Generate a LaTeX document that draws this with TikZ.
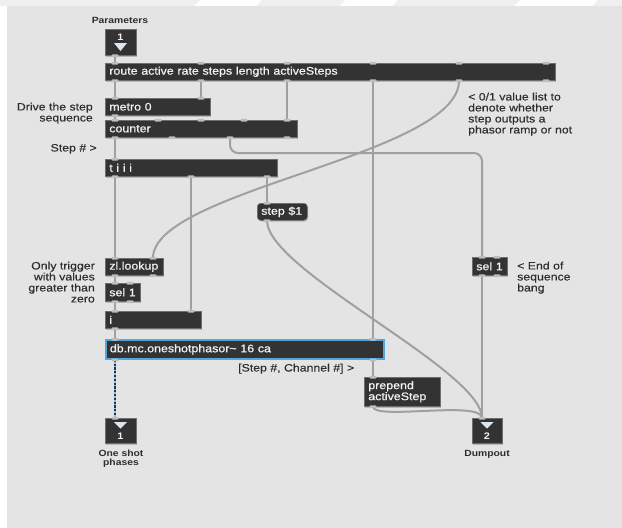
\documentclass[tikz,border=0pt]{standalone}
\usepackage{fontspec}
\newfontfamily\mxfont{Liberation Sans}[FakeStretch=1.15]
\newfontfamily\mxboxfont{Liberation Sans}[FakeStretch=1.13,FakeBold=0.7]
\newfontfamily\mxcmtfont{Liberation Sans}[FakeStretch=1.15,FakeBold=0.3]
\usetikzlibrary{calc,shadows}
\definecolor{bgc}{HTML}{E4E4E4}
\definecolor{stripc}{HTML}{EFEFEF}
\definecolor{objfill}{HTML}{333333}
\definecolor{objedge}{HTML}{6E6E6E}
\definecolor{objtext}{HTML}{F2F2F2}
\definecolor{cordc}{HTML}{A0A0A0}
\definecolor{mcblue}{HTML}{55A6DA}
\definecolor{mcdark}{HTML}{1C3553}
\definecolor{cmtc}{HTML}{2E2E2E}
\definecolor{portc}{HTML}{BDBDBD}
\definecolor{tric}{HTML}{DDE6EE}
\newcommand\boxtxt{\mxboxfont\fontsize{11}{11}\selectfont}
\newcommand\cmttxt{\mxcmtfont\fontsize{10.7}{11}\selectfont}
\newcommand\lbltxt{\mxfont\bfseries\fontsize{9}{9.5}\selectfont}
\newcommand\numtxt{\mxfont\bfseries\fontsize{9.5}{9.5}\selectfont}
\newcommand\portat[3]{\fill[portc,rounded corners=1pt] ($(#1.#2 west)+(#3-3.5,-1.2)$) rectangle ($(#1.#2 west)+(#3+3.5,1.6)$);}
\pgfdeclarelayer{back}
\pgfdeclarelayer{cords}
\pgfsetlayers{back,cords,main}
\begin{document}
\begin{tikzpicture}[x=1pt,y=-1pt,
  obj/.style={draw=objedge, line width=0.6pt, fill=objfill, text=objtext, font=\boxtxt,
    anchor=north west, inner xsep=4pt, inner ysep=0pt, align=left,
    drop shadow={shadow xshift=0.8pt, shadow yshift=-1.2pt, opacity=0.2, fill=black}},
  msgbox/.style={obj, rounded corners=3.5pt},
  mcbox/.style={obj, draw=mcblue, line width=1.8pt},
  iobox/.style={draw=objedge, line width=0.6pt, fill=objfill, anchor=north west, inner sep=0pt,
    drop shadow={shadow xshift=0.8pt, shadow yshift=-1.2pt, opacity=0.2, fill=black}},
  ionum/.style={font=\numtxt, text=objtext, inner sep=0pt},
  cmt/.style={font=\cmttxt, text=cmtc, inner sep=0pt},
  lbl/.style={font=\lbltxt, text=cmtc, inner sep=0pt},
  cord/.style={draw=cordc, line width=2pt},
  mcbase/.style={draw=mcblue!70!white, line width=2.6pt},
  mcdots/.style={draw=mcdark, line width=2.6pt, dash pattern=on 2.2pt off 1.6pt}
]
\useasboundingbox (0,0) rectangle (622,528);
\begin{pgfonlayer}{back}
  \fill[white] (0,0) rectangle (622,528);
  \fill[stripc] (0,0) -- (200,0) -- (194,6) -- (0,6) -- cycle;
  \fill[stripc] (262,0) -- (345,0) -- (339,6) -- (256,6) -- cycle;
  \fill[stripc] (398,0) -- (520,0) -- (514,6) -- (392,6) -- cycle;
  \fill[stripc] (598,0) -- (622,0) -- (622,6) -- (592,6) -- cycle;
  \fill[bgc] (7,6) rectangle (622,528);
\end{pgfonlayer}

% objects
\node[iobox, minimum width=31pt, minimum height=26pt] (in1) at (105,29) {};
\node[obj, text width=442pt, minimum height=17pt] (route) at (105,63) {route active rate steps length activeSteps};
\node[obj, text width=97pt, minimum height=17pt] (metro) at (105,98) {metro 0};
\node[obj, text width=184pt, minimum height=17pt] (counter) at (105,120) {counter};
\node[obj, text width=164pt, minimum height=17pt] (tiii) at (105,159) {t i i i};
\node[msgbox, text width=42pt, minimum height=17pt] (step) at (257,203) {step \$1};
\node[obj, text width=50pt, minimum height=17pt] (zl) at (105,258) {zl.lookup};
\node[obj, text width=27pt, minimum height=18pt] (sela) at (105,283) {sel 1};
\node[obj, text width=88pt, minimum height=17pt] (ibox) at (105,311) {i};
\node[mcbox, text width=270pt, minimum height=19pt] (db) at (105,339) {db.mc.oneshotphasor\textasciitilde{} 16 ca};
\node[obj, text width=68pt, minimum height=29pt] (prep) at (364,377) {prepend\\activeStep};
\node[obj, text width=27pt, minimum height=18pt] (selb) at (472,257) {sel 1};
\node[iobox, minimum width=31pt, minimum height=25pt] (out1) at (105,418) {};
\node[iobox, minimum width=30pt, minimum height=25pt] (out2) at (472,418) {};

% inlet / outlet glyphs
\node[ionum] (in1num) at (120.5,37.5) {1};
\fill[tric] (114,43) -- (127,43) -- (120.5,51) -- cycle;
\fill[tric] (114,422) -- (127,422) -- (120.5,428.5) -- cycle;
\node[ionum] (out1num) at (120.5,436.5) {1};
\fill[tric] (480.5,422) -- (493.5,422) -- (487,428.5) -- cycle;
\node[ionum] (out2num) at (487,436.5) {2};

% comments and labels
\node[lbl, anchor=base] (lpar) at (120,23) {Parameters};
\node[cmt, anchor=north east, align=right] (cdrive) at (93,102.5) {Drive the step\\sequence};
\node[cmt, anchor=base east] (cstep) at (97,151.5) {Step \# >};
\node[cmt, anchor=north west, align=left] (clist) at (468,92.5) {< 0/1 value list to\\denote whether\\step outputs a\\phasor ramp or not};
\node[cmt, anchor=north east, align=right] (ctrig) at (95,261.5) {Only trigger\\with values\\greater than\\zero};
\node[cmt, anchor=north west, align=left] (cend) at (517,261.5) {< End of\\sequence\\bang};
\node[cmt, anchor=base west] (cchan) at (238,371.5) {[Step \#, Channel \#] >};
\node[lbl, anchor=north, align=center] (lone) at (121,449.5) {One shot\\phases};
\node[lbl, anchor=base] (ldump) at (487,456) {Dumpout};

% port coordinates
\coordinate (in1-o) at ($(in1.south west)+(10,0)$);
\coordinate (route-i0) at ($(route.north west)+(10,0)$);
\coordinate (route-o0) at ($(route.south west)+(10,0)$);
\coordinate (route-o1) at ($(route.south west)+(96,0)$);
\coordinate (route-o2) at ($(route.south west)+(182,0)$);
\coordinate (route-o3) at ($(route.south west)+(268,0)$);
\coordinate (route-o4) at ($(route.south west)+(354,0)$);
\coordinate (metro-i0) at ($(metro.north west)+(10,0)$);
\coordinate (metro-i1) at ($(metro.north west)+(96,0)$);
\coordinate (metro-o0) at ($(metro.south west)+(10,0)$);
\coordinate (counter-i0) at ($(counter.north west)+(10,0)$);
\coordinate (counter-i4) at ($(counter.north west)+(182,0)$);
\coordinate (counter-o0) at ($(counter.south west)+(10,0)$);
\coordinate (counter-o2) at ($(counter.south west)+(125,0)$);
\coordinate (tiii-i0) at ($(tiii.north west)+(10,0)$);
\coordinate (tiii-o0) at ($(tiii.south west)+(10,0)$);
\coordinate (tiii-o1) at ($(tiii.south west)+(86,0)$);
\coordinate (tiii-o2) at ($(tiii.south west)+(162,0)$);
\coordinate (step-i) at ($(step.north west)+(10,0)$);
\coordinate (step-o) at ($(step.south west)+(10,0)$);
\coordinate (zl-i0) at ($(zl.north west)+(10,0)$);
\coordinate (zl-i1) at ($(zl.north west)+(48,0)$);
\coordinate (zl-o0) at ($(zl.south west)+(10,0)$);
\coordinate (sela-i) at ($(sela.north west)+(10,0)$);
\coordinate (sela-o) at ($(sela.south west)+(10,0)$);
\coordinate (ibox-i0) at ($(ibox.north west)+(10,0)$);
\coordinate (ibox-i1) at ($(ibox.north west)+(86,0)$);
\coordinate (ibox-o) at ($(ibox.south west)+(10,0)$);
\coordinate (db-i0) at ($(db.north west)+(10,0)$);
\coordinate (db-i1) at ($(db.north west)+(268,0)$);
\coordinate (db-o0) at ($(db.south west)+(10,0)$);
\coordinate (db-o1) at ($(db.south west)+(268,0)$);
\coordinate (prep-i) at ($(prep.north west)+(9,0)$);
\coordinate (prep-o) at ($(prep.south west)+(9,0)$);
\coordinate (selb-i) at ($(selb.north west)+(10,0)$);
\coordinate (selb-o) at ($(selb.south west)+(10,0)$);
\coordinate (out1-i) at ($(out1.north west)+(10,0)$);
\coordinate (out2-i) at ($(out2.north west)+(10,0)$);
\coordinate (cbend) at ($(selb-i)+(0,-104)$);

% patch cords
\begin{pgfonlayer}{cords}
  \draw[cord] (in1-o) -- (route-i0);
  \draw[cord] (route-o0) -- (metro-i0);
  \draw[cord] (route-o1) -- (metro-i1);
  \draw[cord] (route-o2) -- (counter-i4);
  \draw[cord] (route-o3) -- (db-i1);
  \draw[cord] (route-o4) .. controls ($(route-o4)+(0,75)$) and ($(zl-i1)+(0,-68)$) .. (zl-i1);
  \draw[cord] (metro-o0) -- (counter-i0);
  \draw[cord] (counter-o0) -- (tiii-i0);
  \draw[cord, rounded corners=8pt] (counter-o2) |- (cbend) -- (selb-i);
  \draw[cord] (tiii-o0) -- (zl-i0);
  \draw[cord] (tiii-o1) -- (ibox-i1);
  \draw[cord] (tiii-o2) -- (step-i);
  \draw[cord] (step-o) .. controls ($(step-o)+(0,50)$) and ($(out2-i)+(0,-48)$) .. (out2-i);
  \draw[cord] (zl-o0) -- (sela-i);
  \draw[cord] (sela-o) -- (ibox-i0);
  \draw[cord] (ibox-o) -- (db-i0);
  \draw[mcbase] (db-o0) -- (out1-i);
  \draw[mcdots] (db-o0) -- (out1-i);
  \draw[cord] (db-o1) -- (prep-i);
  \draw[cord] (prep-o) .. controls ($(prep-o)+(0,14)$) and ($(out2-i)+(0,-18)$) .. (out2-i);
  \draw[cord] (selb-o) -- (out2-i);
\end{pgfonlayer}

% ports
\portat{in1}{south}{10}
\foreach \d in {10,96,182,268,354,441} {\portat{route}{north}{\d}\portat{route}{south}{\d}}
\foreach \d in {10,96} {\portat{metro}{north}{\d}}
\portat{metro}{south}{10}
\foreach \d in {10,53,96,139,182} {\portat{counter}{north}{\d}}
\foreach \d in {10,67,125,182} {\portat{counter}{south}{\d}}
\portat{tiii}{north}{10}
\foreach \d in {10,86,162} {\portat{tiii}{south}{\d}}
\portat{step}{north}{10}
\portat{step}{south}{10}
\foreach \d in {10,48} {\portat{zl}{north}{\d}\portat{zl}{south}{\d}}
\foreach \d in {10,25} {\portat{sela}{north}{\d}\portat{sela}{south}{\d}\portat{selb}{north}{\d}\portat{selb}{south}{\d}}
\foreach \d in {10,86} {\portat{ibox}{north}{\d}}
\portat{ibox}{south}{10}
\foreach \d in {10,268} {\portat{db}{north}{\d}\portat{db}{south}{\d}}
\portat{prep}{north}{9}
\portat{prep}{south}{9}
\portat{out1}{north}{10}
\portat{out2}{north}{10}
\end{tikzpicture}
\end{document}
